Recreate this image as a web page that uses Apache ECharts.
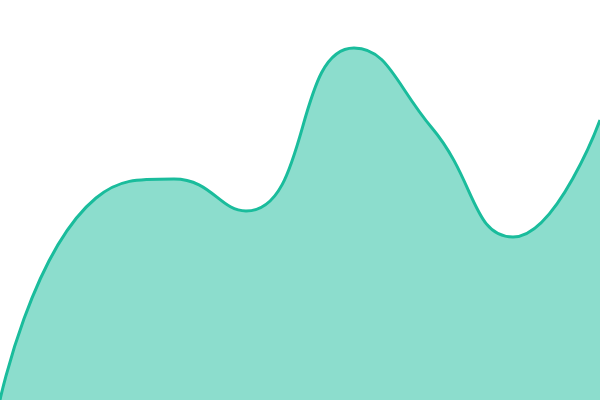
<!DOCTYPE html>
<html><head><meta charset="utf-8">
<script src="https://cdn.jsdelivr.net/npm/echarts@6/dist/echarts.min.js"></script>
<style>html,body{margin:0;padding:0;background:#fff}#c{width:600px;height:400px}</style>
</head><body><div id="c"></div>
<script>
var xValues = [0, 16, 29, 41, 59, 72, 85.5, 100];
var values = [0, 202, 221, 189, 352, 272, 163, 280];
var chart = echarts.init(document.getElementById('c'));
chart.setOption({
  animation: false,
  grid: {left: 0, right: 0, top: 0, bottom: 0},
  xAxis: {type: 'value', min: 0, max: 100, show: false},
  yAxis: {type: 'value', min: 0, max: 400, show: false},
  series: [{
    type: 'line', data: xValues.map(function(x, i){ return [x, values[i]]; }), smooth: true, symbol: 'none',
    lineStyle: {color: '#1abc9c', width: 3},
    areaStyle: {color: '#1abc9c', opacity: 0.5}
  }]
});
</script></body></html>
